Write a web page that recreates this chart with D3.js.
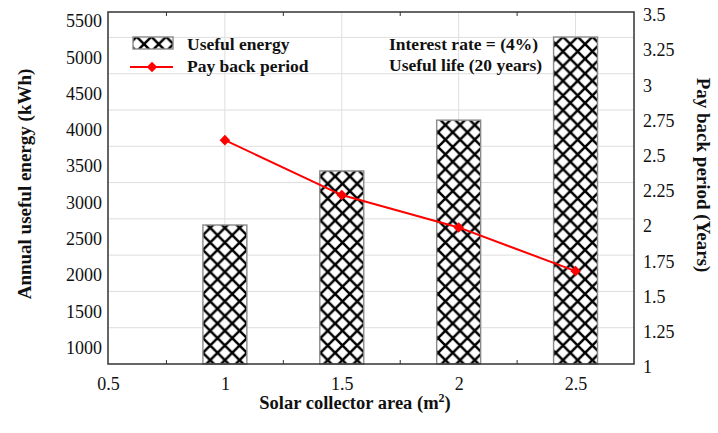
<!doctype html>
<html lang="en">
  <head>
    <meta charset="UTF-8" />
    <title>Solar collector area</title>
    <style>
      body { margin: 0; background: #fff; }
      svg, svg text { font-family: "Liberation Serif", "Times New Roman", serif; }
    </style>
  </head>
  <body>
    <svg id="chart"></svg>
    <script src="https://d3js.org/d3.v7.min.js"></script>
    <script>
      /* global d3 */
      const areas = [1, 1.5, 2, 2.5];
      const usefulEnergy = [2665, 3410, 4110, 5255];
      const paybackPeriod = [2.59, 2.2, 1.97, 1.66];
      const xTickValues = [0.5, 1, 1.5, 2, 2.5];
      const xMinorTicks = [0.75, 1.25, 1.75, 2.25];
      const leftTicks = [1000, 1500, 2000, 2500, 3000, 3500, 4000, 4500, 5000, 5500];
      const rightTicks = [1, 1.25, 1.5, 1.75, 2, 2.25, 2.5, 2.75, 3, 3.25, 3.5];
      const gridValues = [1250, 1750, 2250, 2750, 3250, 3750, 4250, 4750, 5250];
      const notes = ["Interest rate = (4%)", "Useful life (20 years)"];

      const width = 718,
        height = 433;
      const margin = { left: 108, right: 84, top: 12, bottom: 69 };
      const barW = 0.188; // in x units
      const hs = 14.7; // hatch period

      const svg = d3.select("#chart").attr("width", width).attr("height", height);

      const x = d3.scaleLinear().domain([0.5, 2.75]).range([margin.left, width - margin.right]);
      const y1 = d3.scaleLinear().domain([750, 5600]).range([height - margin.bottom, margin.top]);
      const y2 = d3.scaleLinear().domain([1, 3.5]).range([height - margin.bottom, margin.top]);

      // cross hatch
      const p = svg.append("defs")
        .append("pattern")
        .attr("id", "hatch")
        .attr("patternUnits", "userSpaceOnUse")
        .attr("width", hs)
        .attr("height", hs)
        .attr("x", x(1) - hs / 2)
        .attr("y", 0);
      p.append("rect").attr("width", hs).attr("height", hs).attr("fill", "#fff");
      p.append("path")
        .attr("d", `M-1,-1L${hs + 1},${hs + 1}M${hs + 1},-1L-1,${hs + 1}`)
        .attr("stroke", "#000")
        .attr("stroke-width", 2.5);

      // grid
      const grid = svg.append("g").attr("stroke", "#dedede").attr("stroke-width", 1);
      grid.selectAll("line.h")
        .data(gridValues)
        .join("line")
        .attr("class", "h")
        .attr("x1", margin.left)
        .attr("x2", width - margin.right)
        .attr("y1", (d) => y1(d))
        .attr("y2", (d) => y1(d));
      grid.selectAll("line.v")
        .data(areas)
        .join("line")
        .attr("class", "v")
        .attr("x1", (d) => x(d))
        .attr("x2", (d) => x(d))
        .attr("y1", margin.top)
        .attr("y2", height - margin.bottom);

      // bars
      svg.append("g")
        .selectAll("rect")
        .data(areas)
        .join("rect")
        .attr("x", (d) => x(d - barW / 2))
        .attr("width", (d) => x(d + barW / 2) - x(d - barW / 2))
        .attr("y", (d, i) => y1(usefulEnergy[i]))
        .attr("height", (d, i) => y1.range()[0] - y1(usefulEnergy[i]))
        .attr("fill", "url(#hatch)")
        .attr("stroke", "#8a8a8a")
        .attr("stroke-width", 1.4);

      // payback line
      const pts = areas.map((a, i) => [x(a), y2(paybackPeriod[i])]);
      svg.append("path")
        .attr("d", d3.line()(pts))
        .attr("fill", "none")
        .attr("stroke", "#ff0000")
        .attr("stroke-width", 2);
      const diamond = d3.symbol().type(d3.symbolSquare).size(56);
      svg.append("g")
        .selectAll("path")
        .data(pts)
        .join("path")
        .attr("d", diamond)
        .attr("transform", (d) => `translate(${d[0]},${d[1]}) rotate(45)`)
        .attr("fill", "#ff0000");

      // axes
      function styleAxis(g, dy) {
        g.attr("font-family", "Liberation Serif").attr("font-size", 18);
        g.select(".domain").remove();
        g.selectAll("text").attr("fill", "#111");
        if (dy) g.selectAll("text").attr("dy", dy);
      }

      svg.append("g")
        .attr("transform", `translate(${margin.left},0)`)
        .call(d3.axisLeft(y1).tickValues(leftTicks).tickSize(0).tickPadding(6).tickFormat(d3.format("d")))
        .call(styleAxis, "0.42em");

      svg.append("g")
        .attr("transform", `translate(${width - margin.right},0)`)
        .call(d3.axisRight(y2).tickValues(rightTicks).tickSize(0).tickPadding(9).tickFormat((d) => String(d)))
        .call(styleAxis, "0.48em");

      svg.append("g")
        .attr("transform", `translate(0,${height - margin.bottom})`)
        .call(d3.axisBottom(x).tickValues(xTickValues).tickSize(0).tickPadding(13).tickFormat((d) => String(d)))
        .call(styleAxis);

      // small inward ticks, top and bottom
      const tk = svg.append("g").attr("stroke", "#333").attr("stroke-width", 1);
      tk.selectAll("line.b")
        .data(xMinorTicks)
        .join("line")
        .attr("class", "b")
        .attr("x1", (d) => x(d))
        .attr("x2", (d) => x(d))
        .attr("y1", height - margin.bottom)
        .attr("y2", height - margin.bottom - 4);
      tk.selectAll("line.t")
        .data(xMinorTicks)
        .join("line")
        .attr("class", "t")
        .attr("x1", (d) => x(d))
        .attr("x2", (d) => x(d))
        .attr("y1", margin.top)
        .attr("y2", margin.top + 4);

      // frame
      svg.append("rect")
        .attr("x", margin.left)
        .attr("y", margin.top)
        .attr("width", width - margin.left - margin.right)
        .attr("height", height - margin.top - margin.bottom)
        .attr("fill", "none")
        .attr("stroke", "#333")
        .attr("stroke-width", 1.5);

      // legend
      const lg = svg.append("g").attr("font-weight", "bold").attr("font-size", 17.5).attr("fill", "#111");
      lg.append("rect")
        .attr("x", 133).attr("y", 37).attr("width", 40).attr("height", 12)
        .attr("fill", "url(#hatch)").attr("stroke", "#8a8a8a").attr("stroke-width", 1.4);
      lg.append("text").attr("x", 187).attr("y", 50).text("Useful energy");
      lg.append("line")
        .attr("x1", 130).attr("x2", 173).attr("y1", 67).attr("y2", 67)
        .attr("stroke", "#ff0000").attr("stroke-width", 2);
      lg.append("path")
        .attr("d", diamond)
        .attr("transform", "translate(152,67) rotate(45)")
        .attr("fill", "#ff0000");
      lg.append("text").attr("x", 187).attr("y", 72).text("Pay back period");

      lg.selectAll("text.note")
        .data(notes)
        .join("text")
        .attr("class", "note")
        .attr("x", 389)
        .attr("y", (d, i) => 50 + i * 21)
        .text((d) => d);

      // axis titles
      const title = svg.append("g").attr("font-weight", "bold").attr("font-size", 19).attr("fill", "#111");
      title.append("text")
        .attr("text-anchor", "middle")
        .attr("transform", "translate(31,184) rotate(-90)")
        .text("Annual useful energy (kWh)");
      title.append("text")
        .attr("text-anchor", "middle")
        .attr("transform", "translate(697,175) rotate(90)")
        .text("Pay back period (Years)");
      const xt = title.append("text")
        .attr("text-anchor", "middle")
        .attr("x", 355)
        .attr("y", 409)
        .attr("font-size", 18.5);
      xt.append("tspan").text("Solar collector area (m");
      xt.append("tspan").attr("font-size", 12).attr("dy", -7).text("2");
      xt.append("tspan").attr("dy", 7).text(")");
    </script>
  </body>
</html>
